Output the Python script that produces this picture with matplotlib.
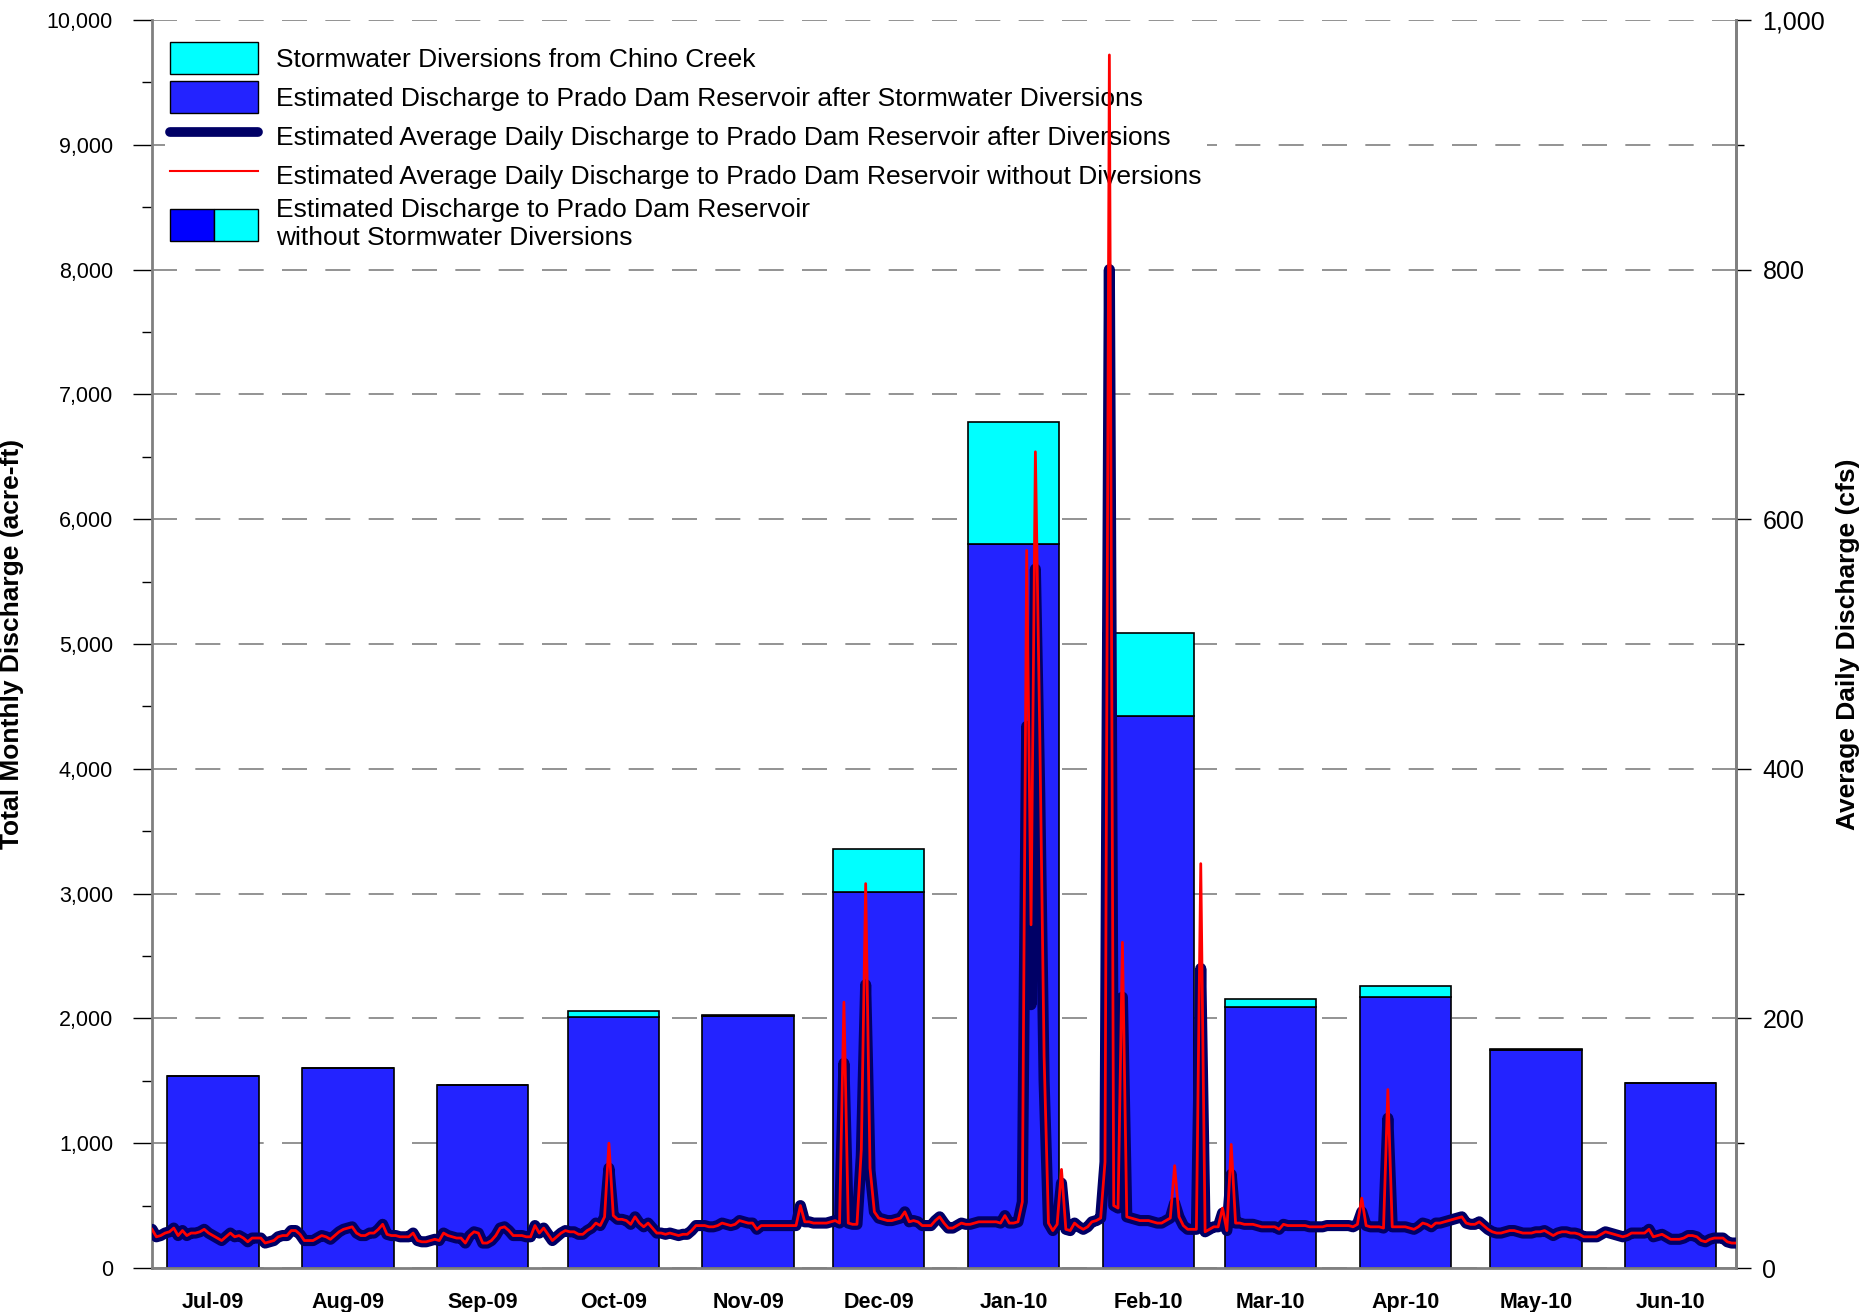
import numpy as np
import pandas as pd
import matplotlib
matplotlib.use("Agg")
import matplotlib.pyplot as plt
import matplotlib.dates as mdates
from matplotlib.patches import Patch
from matplotlib.lines import Line2D
from matplotlib.legend_handler import HandlerTuple
from matplotlib.ticker import MultipleLocator, FuncFormatter

plt.rcParams['font.family'] = ['Liberation Sans', 'DejaVu Sans']

# monthly totals (acre-ft)
months = ['Jul-09', 'Aug-09', 'Sep-09', 'Oct-09', 'Nov-09', 'Dec-09',
          'Jan-10', 'Feb-10', 'Mar-10', 'Apr-10', 'May-10', 'Jun-10']
after_div = [1540, 1605, 1470, 2015, 2020, 3015, 5805, 4425, 2090, 2175, 1750, 1482]
without_div = [1540, 1605, 1470, 2062, 2026, 3357, 6780, 5092, 2153, 2262, 1755, 1486]

# average daily discharge after diversions (cfs), one list per month
jul = [31, 25, 26, 28, 29, 32, 26, 30, 26, 28, 28, 29, 31, 28, 26, 24, 22, 25, 28, 25, 26, 24, 21, 24, 24, 24, 20, 21, 22, 25, 26]
aug = [26, 30, 30, 27, 22, 22, 22, 24, 26, 25, 23, 26, 29, 31, 32, 33, 28, 26, 26, 28, 28, 31, 35, 27, 26, 26, 25, 25, 25, 28, 22]
sep = [21, 21, 22, 23, 22, 28, 26, 25, 24, 24, 20, 26, 29, 28, 20, 20, 22, 26, 32, 33, 30, 26, 26, 26, 25, 25, 34, 28, 32, 27]
oct_ = [22, 25, 28, 30, 29, 29, 27, 27, 30, 32, 36, 34, 41, 80, 42, 39, 39, 38, 35, 41, 36, 33, 36, 32, 28, 28, 27, 28, 27, 26, 27]
nov = [27, 30, 34, 34, 34, 33, 33, 34, 36, 35, 34, 35, 38, 37, 36, 36, 31, 34, 34, 34, 34, 34, 34, 34, 34, 34, 50, 37, 37, 36]
dec = [36, 36, 36, 37, 38, 36, 164, 36, 35, 35, 90, 227, 78, 45, 40, 39, 38, 38, 39, 40, 45, 37, 38, 37, 34, 34, 34, 38, 41, 36, 32]
jan = [32, 34, 36, 35, 35, 36, 37, 37, 37, 37, 37, 36, 42, 36, 36, 37, 53, 434, 211, 560, 380, 150, 36, 30, 35, 68, 31, 30, 36, 33, 31]
feb = [33, 37, 38, 40, 85, 800, 50, 48, 217, 41, 40, 39, 38, 38, 38, 37, 36, 36, 38, 40, 52, 41, 34, 31, 31, 31, 240, 29]
mar = [31, 33, 33, 44, 30, 75, 36, 36, 35, 35, 35, 34, 33, 33, 33, 33, 31, 35, 34, 34, 34, 34, 34, 33, 33, 33, 33, 34, 34, 34, 34]
apr = [34, 34, 33, 35, 45, 34, 33, 33, 33, 32, 120, 33, 33, 33, 33, 32, 31, 33, 36, 35, 33, 36, 36, 37, 38, 39, 40, 41, 36, 35]
may = [35, 37, 34, 31, 29, 28, 28, 29, 30, 30, 29, 28, 28, 28, 29, 29, 30, 28, 26, 28, 29, 29, 28, 28, 27, 25, 25, 25, 25, 27, 29]
jun = [28, 27, 26, 25, 26, 28, 28, 28, 28, 31, 25, 26, 27, 25, 23, 23, 23, 24, 26, 26, 25, 22, 21, 23, 24, 24, 24, 21, 20, 20]

# days where discharge without diversions differs (cfs)
peaks_without = {
    '2009-10-14': 100, '2009-12-07': 213, '2009-12-11': 95, '2009-12-12': 308,
    '2009-12-13': 80, '2010-01-18': 575, '2010-01-19': 275, '2010-01-20': 654,
    '2010-01-21': 430, '2010-01-22': 170, '2010-01-26': 79, '2010-02-06': 972,
    '2010-02-09': 261, '2010-02-21': 82, '2010-02-27': 324, '2010-03-04': 48,
    '2010-03-06': 99, '2010-04-05': 56, '2010-04-11': 143,
}

daily_after = pd.Series(jul + aug + sep + oct_ + nov + dec + jan + feb + mar + apr + may + jun,
                        index=pd.date_range('2009-07-01', '2010-06-30'), dtype=float)
daily_without = daily_after.copy()
for d, v in peaks_without.items():
    daily_without[pd.Timestamp(d)] = v

month_start = mdates.date2num(pd.date_range('2009-07-01', periods=12, freq='MS'))
diversions = np.array(without_div) - np.array(after_div)

fig = plt.figure(figsize=(18.64, 13.12), dpi=100)
ax = fig.add_axes([152 / 1864, 1 - 1268 / 1312, 1584 / 1864, 1248 / 1312])

ax.bar(month_start + 3.5, after_div, width=21, align='edge', color='#2323ff',
       edgecolor='black', linewidth=1.2, zorder=2)
ax.bar(month_start + 3.5, diversions, bottom=after_div, width=21, align='edge',
       color='#00ffff', edgecolor='black', linewidth=1.2, zorder=2)

ax.set_ylim(0, 10000)
ax.set_xlim(mdates.date2num(pd.Timestamp('2009-07-01')), mdates.date2num(pd.Timestamp('2010-06-30')))
ax.yaxis.set_major_locator(MultipleLocator(1000))
ax.yaxis.set_minor_locator(MultipleLocator(500))
ax.yaxis.set_major_formatter(FuncFormatter(lambda v, p: f'{v:,.0f}'))
ax.set_axisbelow(True)
ax.yaxis.grid(True, which='major', color='#808080', linewidth=1.2, linestyle=(0, (15, 11)))
ax.tick_params(axis='y', which='major', direction='out', length=14, width=1, labelsize=15.5, pad=14)
ax.tick_params(axis='y', which='minor', direction='out', length=7, width=1)
ax.set_xticks(month_start + 14)
ax.set_xticklabels(months, fontweight='bold')
ax.tick_params(axis='x', length=0, labelsize=15.5, pad=17)
ax.set_ylabel('Total Monthly Discharge (acre-ft)', fontsize=19, fontweight='bold')
ax.yaxis.set_label_coords(-0.081, 0.5)
for s in ['left', 'right', 'bottom']:
    ax.spines[s].set_color('#808080')
    ax.spines[s].set_linewidth(2)
ax.spines['top'].set_visible(False)

ax2 = ax.twinx()
ax2.plot(daily_after.index, daily_after.values, color='#000066', linewidth=8,
         solid_joinstyle='round', solid_capstyle='round', zorder=3)
ax2.plot(daily_without.index, daily_without.values, color='red', linewidth=2, zorder=4)
ax2.set_ylim(0, 1000)
ax2.yaxis.set_major_locator(MultipleLocator(200))
ax2.yaxis.set_minor_locator(MultipleLocator(100))
ax2.yaxis.set_major_formatter(FuncFormatter(lambda v, p: f'{v:,.0f}'))
ax2.tick_params(axis='y', which='major', direction='out', length=11, width=1, labelsize=18, pad=8)
ax2.tick_params(axis='y', which='minor', direction='out', length=6, width=1)
ax2.set_ylabel('Average Daily Discharge (cfs)', fontsize=19, fontweight='bold')
ax2.yaxis.set_label_coords(1.063, 0.5)
for s in ['top', 'left', 'bottom']:
    ax2.spines[s].set_visible(False)
ax2.spines['right'].set_color('#808080')
ax2.spines['right'].set_linewidth(2)

handles = [
    Patch(facecolor='#00ffff', edgecolor='black'),
    Patch(facecolor='#2323ff', edgecolor='black'),
    Line2D([], [], color='#000066', linewidth=7, solid_capstyle='round'),
    Line2D([], [], color='red', linewidth=1.5),
    (Patch(facecolor='#0000ff', edgecolor='black'), Patch(facecolor='#00ffff', edgecolor='black')),
]
labels = [
    'Stormwater Diversions from Chino Creek',
    'Estimated Discharge to Prado Dam Reservoir after Stormwater Diversions',
    'Estimated Average Daily Discharge to Prado Dam Reservoir after Diversions',
    'Estimated Average Daily Discharge to Prado Dam Reservoir without Diversions',
    'Estimated Discharge to Prado Dam Reservoir\nwithout Stormwater Diversions',
]
leg = ax.legend(handles, labels, loc='upper left', bbox_to_anchor=(0.0, 0.997),
                fontsize=19, handlelength=3.3, handleheight=1.45, labelspacing=0.29,
                handletextpad=0.7, frameon=True, facecolor='white', edgecolor='none',
                framealpha=1, fancybox=False, borderpad=0.2,
                handler_map={tuple: HandlerTuple(ndivide=None, pad=0)})
leg.set_zorder(5)

fig.savefig('out.png', dpi=100)
